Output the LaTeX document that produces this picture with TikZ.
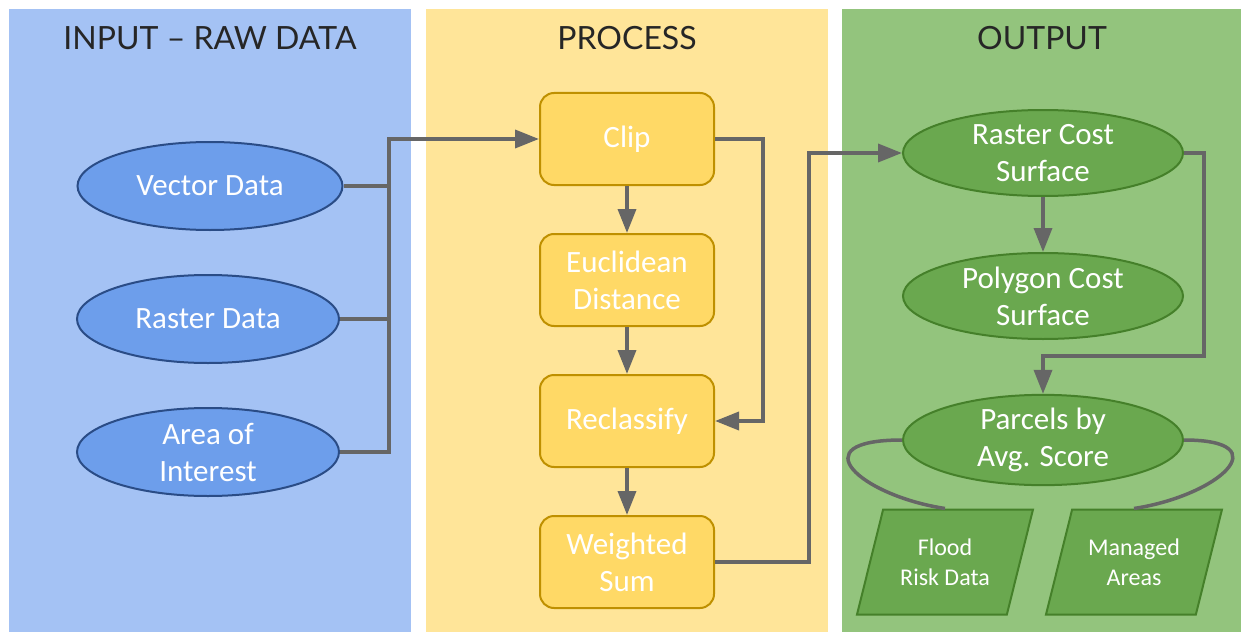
\documentclass[tikz,border=0pt]{standalone}
\usepackage{fontspec}
\setmainfont{Carlito}
\newfontfamily\headfont{Lato}
\usetikzlibrary{positioning,calc}
\usetikzlibrary{arrows.meta,shapes.geometric}
\definecolor{InBack}{HTML}{A4C2F4}
\definecolor{InFill}{HTML}{6D9EEB}
\definecolor{InLine}{HTML}{2A4C86}
\definecolor{PrBack}{HTML}{FFE599}
\definecolor{PrFill}{HTML}{FFD966}
\definecolor{PrLine}{HTML}{BF9000}
\definecolor{OutBack}{HTML}{93C47D}
\definecolor{OutFill}{HTML}{6AA84F}
\definecolor{OutLine}{HTML}{45802A}
\definecolor{LinkGray}{HTML}{666666}
\tikzset{
  head/.style={text=black!85,font=\headfont\fontsize{32}{36}\selectfont},
  indata/.style={ellipse,draw=InLine,fill=InFill,line width=2pt,text=white,
    minimum width=262pt,minimum height=88pt,inner sep=0pt,align=center,
    font=\fontsize{31}{37}\selectfont},
  stepbox/.style={draw=PrLine,fill=PrFill,rounded corners=14pt,line width=2pt,
    text=white,minimum width=174pt,minimum height=92pt,inner sep=0pt,align=center,
    font=\fontsize{31}{37}\selectfont},
  result/.style={ellipse,draw=OutLine,fill=OutFill,line width=2pt,text=white,
    minimum width=280pt,minimum height=86pt,inner sep=0pt,align=center,
    font=\fontsize{31}{37}\selectfont},
  extra/.style={trapezium,trapezium left angle=76,trapezium right angle=104,
    trapezium stretches body,draw=OutLine,fill=OutFill,line width=2pt,text=white,
    minimum width=176pt,minimum height=105pt,inner xsep=0pt,inner ysep=29pt,
    align=center,font=\fontsize{24}{30}\selectfont},
  link/.style={draw=LinkGray,line width=3.5pt},
  flow/.style={link,-{Triangle[length=24pt,width=18pt]}},
}

\begin{document}
\begin{tikzpicture}[x=1pt,y=-1pt]
\useasboundingbox (0,0) rectangle (1243,634);
% the three columns
\fill[InBack] (9,9) rectangle (411,632);
\fill[PrBack] (426,9) rectangle (828,632);
\fill[OutBack] (842,9) rectangle (1241,632);
\node[head] (hin) at (210,38) {INPUT – RAW DATA};
\node[head] (hpr) at (627,38) {PROCESS};
\node[head] (hout) at (1042,38) {OUTPUT};

% input
\node[indata,minimum width=265pt] (vector) at (210,186) {Vector Data};
\node[indata] (raster) at (208,319) {Raster Data};
\node[indata] (aoi) at (208,452) {Area of\\Interest};

% process
\node[stepbox] (clip) at (627,139) {Clip};
\node[stepbox] (euclid) at (627,280) {Euclidean\\Distance};
\node[stepbox] (reclass) at (627,421) {Reclassify};
\node[stepbox] (wsum) at (627,562) {Weighted\\Sum};

% output
\node[result] (rcost) at (1043,153) {Raster Cost\\Surface};
\node[result] (pcost) at (1043,296) {Polygon Cost\\Surface};
\node[result] (parcels) at (1043,440) {Parcels by\\Avg. Score};
\node[extra] (flood) at (945,562) {Flood\\Risk Data};
\node[extra] (managed) at (1134,562) {Managed\\Areas};

% connectors
\path (clip.west) ++(-150,0) coordinate (bus);
\draw[link] (vector.east) -- (vector.east -| bus);
\draw[link] (raster.east) -- (raster.east -| bus);
\draw[flow] (aoi.east) -| (bus) -- (clip.west);
\draw[flow] (clip) -- (euclid);
\draw[flow] (euclid) -- (reclass);
\draw[flow] (reclass) -- (wsum);
\draw[flow] (clip.east) -- ++(48,0) |- (reclass.east);
\draw[flow] (wsum.east) -- ++(94,0) |- (rcost.west);
\draw[flow] (rcost) -- (pcost);
\draw[flow] (rcost.east) -| ++(20,203) -| (parcels.north);
\draw[link] (parcels.west) .. controls +(-103,0) and +(-85,-13) .. (flood.center |- flood.north);
\draw[link] (parcels.east) .. controls +(96,0) and +(85,-13) .. (managed.north);
\end{tikzpicture}
\end{document}
